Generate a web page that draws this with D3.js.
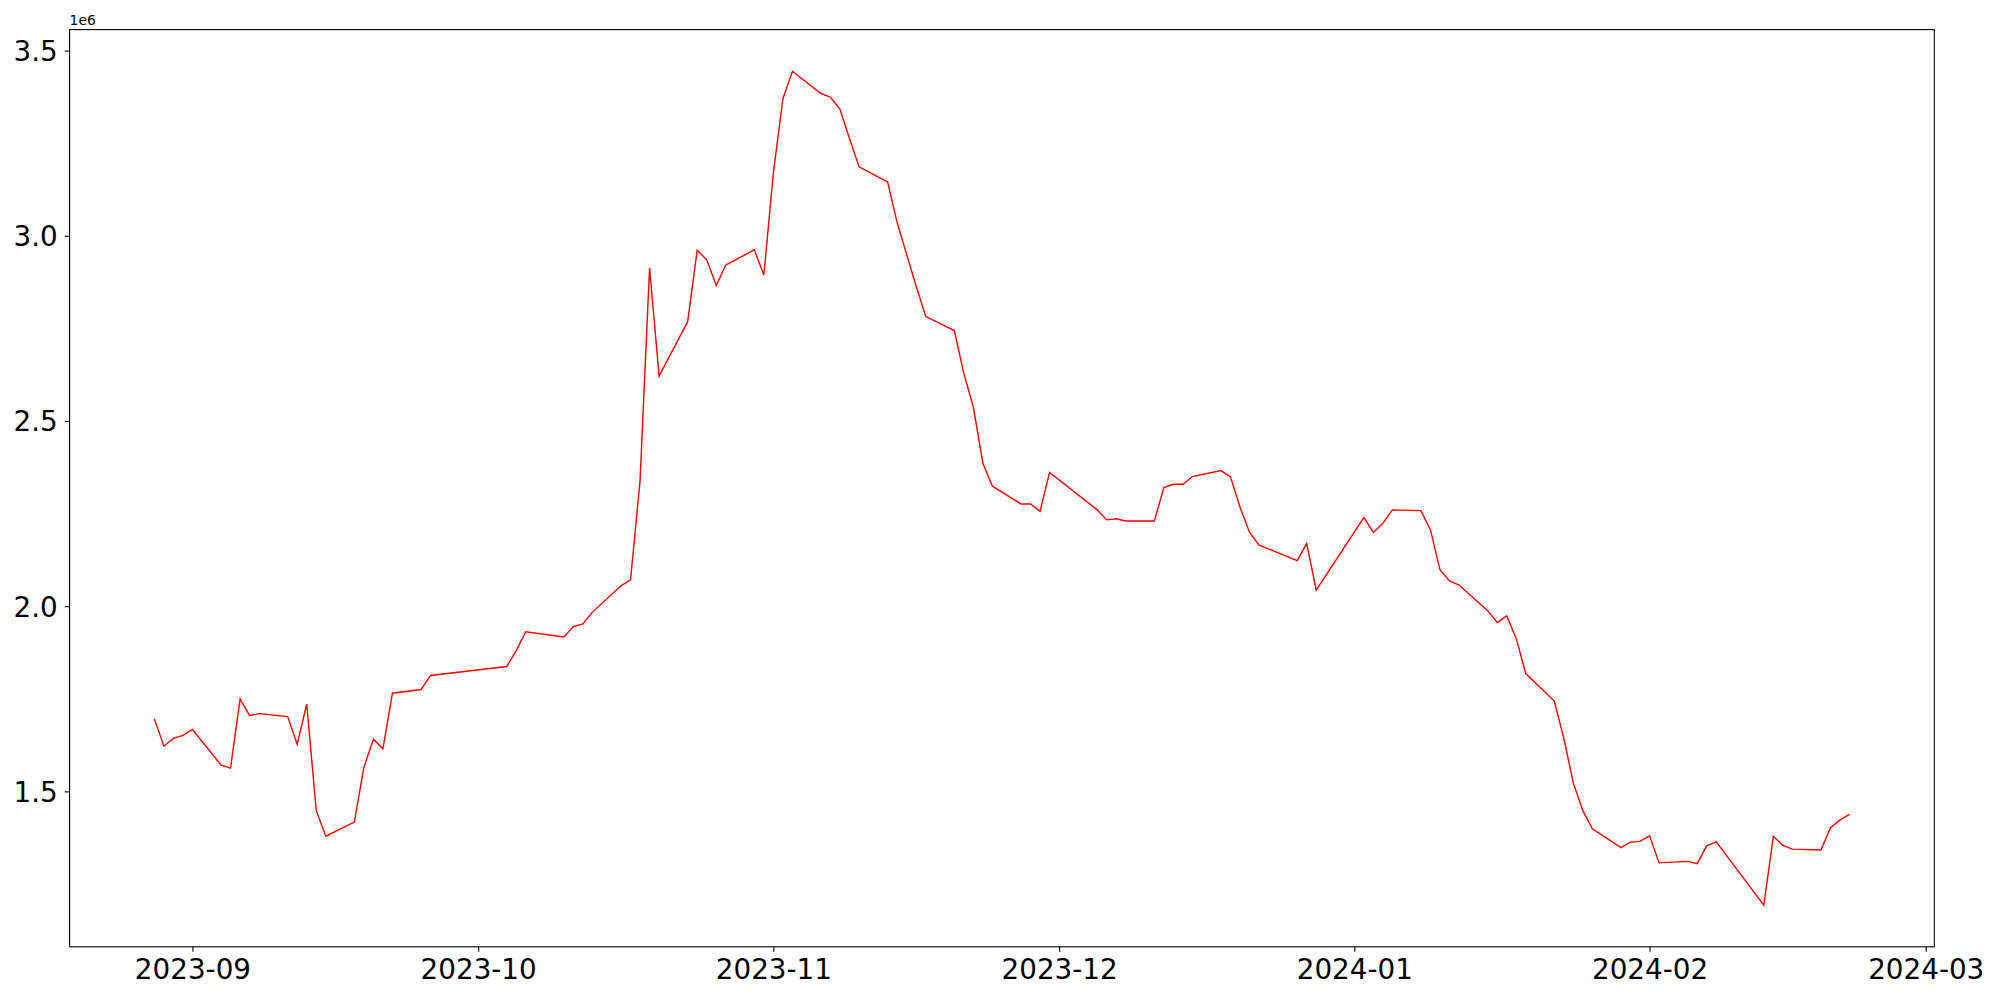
<!DOCTYPE html>
<html>
<head>
<meta charset="utf-8">
<script src="https://cdn.jsdelivr.net/npm/d3@7"></script>
<style>
  body { margin: 0; background: #fff; }
  text { font-family: "DejaVu Sans", sans-serif; }
</style>
</head>
<body>
<div id="chart"></div>
<script>
// trading days
var dates = [
  "2023-08-28","2023-08-29","2023-08-30","2023-08-31","2023-09-01",
  "2023-09-04","2023-09-05","2023-09-06","2023-09-07","2023-09-08",
  "2023-09-11","2023-09-12","2023-09-13","2023-09-14","2023-09-15",
  "2023-09-18","2023-09-19","2023-09-20","2023-09-21","2023-09-22",
  "2023-09-25","2023-09-26","2023-10-04","2023-10-05","2023-10-06",
  "2023-10-10","2023-10-11","2023-10-12","2023-10-13",
  "2023-10-16","2023-10-17","2023-10-18","2023-10-19","2023-10-20",
  "2023-10-23","2023-10-24","2023-10-25","2023-10-26","2023-10-27",
  "2023-10-30","2023-10-31","2023-11-01","2023-11-02","2023-11-03",
  "2023-11-06","2023-11-07","2023-11-08","2023-11-09","2023-11-10",
  "2023-11-13","2023-11-14","2023-11-16","2023-11-17",
  "2023-11-20","2023-11-21","2023-11-22","2023-11-23","2023-11-24",
  "2023-11-27","2023-11-28","2023-11-29","2023-11-30",
  "2023-12-05","2023-12-06","2023-12-07","2023-12-08",
  "2023-12-11","2023-12-12","2023-12-13","2023-12-14","2023-12-15",
  "2023-12-18","2023-12-19","2023-12-20","2023-12-21","2023-12-22",
  "2023-12-26","2023-12-27","2023-12-28",
  "2024-01-02","2024-01-03","2024-01-04","2024-01-05",
  "2024-01-08","2024-01-09","2024-01-10","2024-01-11","2024-01-12",
  "2024-01-15","2024-01-16","2024-01-17","2024-01-18","2024-01-19",
  "2024-01-22","2024-01-23","2024-01-24","2024-01-25","2024-01-26",
  "2024-01-29","2024-01-30","2024-01-31","2024-02-01","2024-02-02",
  "2024-02-05","2024-02-06","2024-02-07","2024-02-08",
  "2024-02-13","2024-02-14","2024-02-15","2024-02-16",
  "2024-02-19","2024-02-20","2024-02-21","2024-02-22"
];

var values = [
  1696000,1622000,1643000,1651000,1667000,
  1571000,1563000,1749000,1705000,1710000,
  1702000,1627000,1736000,1448000,1379000,
  1417000,1565000,1641000,1615000,1765000,
  1775000,1813000,1837000,1880000,1931000,
  1917000,1945000,1952000,1984000,
  2055000,2071000,2339000,2913000,2621000,
  2768000,2961000,2935000,2866000,2921000,
  2962000,2894000,3170000,3370000,3444000,
  3384000,3374000,3341000,3262000,3186000,
  3145000,3035000,2863000,2782000,
  2744000,2628000,2537000,2386000,2324000,
  2276000,2276000,2256000,2361000,
  2260000,2233000,2236000,2230000,
  2230000,2320000,2329000,2329000,2350000,
  2366000,2349000,2267000,2199000,2165000,
  2123000,2169000,2043000,
  2239000,2199000,2224000,2260000,
  2258000,2206000,2098000,2068000,2057000,
  1988000,1956000,1974000,1913000,1818000,
  1744000,1643000,1522000,1448000,1399000,
  1348000,1363000,1365000,1380000,1307000,
  1311000,1305000,1353000,1364000,
  1193000,1379000,1354000,1344000,
  1342000,1402000,1423000,1438000
];

var yTicks = [1500000, 2000000, 2500000, 3000000, 3500000];

var margin = {top: 29.6, right: 65.7, bottom: 53.2, left: 69.6};
var width = 2000 - margin.left - margin.right;
var height = 1000 - margin.top - margin.bottom;

var parse = d3.utcParse("%Y-%m-%d");
var data = dates.map(function(d, i) { return {date: parse(d), value: values[i]}; });

// matplotlib style 5% margins
var xExt = d3.extent(data, function(d) { return d.date; });
var xPad = (xExt[1] - xExt[0]) * 0.05;
var yExt = d3.extent(data, function(d) { return d.value; });
var yPad = (yExt[1] - yExt[0]) * 0.05;

var x = d3.scaleUtc()
  .domain([new Date(+xExt[0] - xPad), new Date(+xExt[1] + xPad)])
  .range([0, width]);

var y = d3.scaleLinear()
  .domain([yExt[0] - yPad, yExt[1] + yPad])
  .range([height, 0]);

var svg = d3.select("#chart")
  .append("svg")
  .attr("width", 2000)
  .attr("height", 1000)
  .style("background", "#fff")
  .append("g")
  .attr("transform", "translate(" + margin.left + "," + margin.top + ")");

var line = d3.line()
  .x(function(d) { return x(d.date); })
  .y(function(d) { return y(d.value); });

svg.append("path")
  .datum(data)
  .attr("fill", "none")
  .attr("stroke", "#ff0000")
  .attr("stroke-width", 1.4)
  .attr("stroke-linejoin", "miter")
  .attr("d", line);

//axes
var xAxis = svg.append("g")
  .attr("transform", "translate(0," + height + ")")
  .call(d3.axisBottom(x)
    .ticks(d3.utcMonth.every(1))
    .tickFormat(d3.utcFormat("%Y-%m"))
    .tickSize(4.9)
    .tickPadding(7.7)
    .tickSizeOuter(0));

var yAxis = svg.append("g")
  .call(d3.axisLeft(y)
    .tickValues(yTicks)
    .tickFormat(function(d) { return d3.format(".1f")(d / 1e6); })
    .tickSize(4.9)
    .tickPadding(7)
    .tickSizeOuter(0));

[xAxis, yAxis].forEach(function(a) {
  a.select(".domain").remove();
  a.selectAll(".tick line").attr("stroke", "#000").attr("stroke-width", 1.1);
  a.selectAll(".tick text")
    .style("font-size", "27.8px")
    .style("font-family", "'DejaVu Sans', sans-serif")
    .attr("fill", "#000");
});
yAxis.selectAll(".tick text").attr("dy", "0.36em");

//frame
svg.append("rect")
  .attr("width", width)
  .attr("height", height)
  .attr("fill", "none")
  .attr("stroke", "#000")
  .attr("stroke-width", 1.1);

//offset label
svg.append("text")
  .attr("x", 0)
  .attr("y", -4.5)
  .text("1e6")
  .style("font-size", "13.9px")
  .style("fill", "#000");
</script>
</body>
</html>
